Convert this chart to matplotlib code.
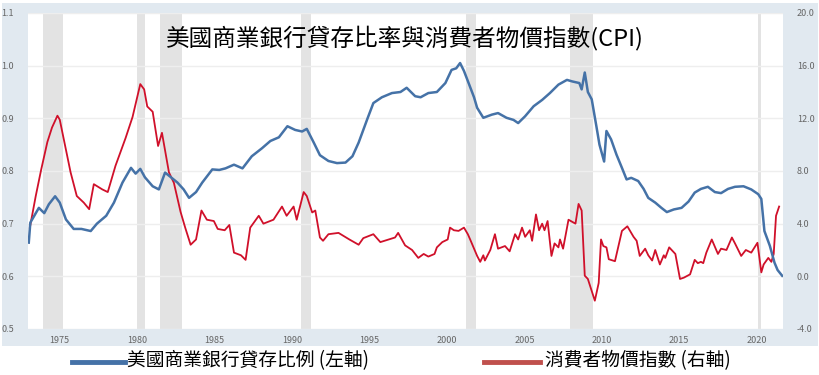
import matplotlib
matplotlib.use("Agg")
import matplotlib.pyplot as plt
from matplotlib.patches import Rectangle
from matplotlib.lines import Line2D

# ---- data ----
ldr_year = [1973.0, 1973.1, 1973.65, 1974.0, 1974.3, 1974.7, 1975.0, 1975.4, 1975.9, 1976.4,
            1977.0, 1977.4, 1978.0, 1978.5, 1979.05, 1979.6, 1979.9, 1980.2, 1980.5, 1981.0,
            1981.4, 1981.8, 1982.1, 1982.6, 1983.0, 1983.35, 1983.8, 1984.2, 1984.85, 1985.3,
            1985.7, 1986.25, 1986.8, 1987.4, 1988.05, 1988.6, 1989.15, 1989.7, 1990.2, 1990.65,
            1990.95, 1991.4, 1991.8, 1992.35, 1992.9, 1993.45, 1993.9, 1994.3, 1994.85, 1995.25,
            1995.8, 1996.45, 1997.0, 1997.4, 1997.95, 1998.3, 1998.8, 1999.35, 1999.9, 2000.3,
            2000.6, 2000.85, 2001.1, 2001.4, 2001.75, 2001.95, 2002.35, 2002.9, 2003.3, 2003.85,
            2004.3, 2004.6, 2005.05, 2005.6, 2006.15, 2006.65, 2007.2, 2007.75, 2008.1, 2008.55,
            2008.7, 2008.9, 2009.1, 2009.35, 2009.65, 2009.85, 2010.15, 2010.3, 2010.6, 2010.95,
            2011.3, 2011.6, 2011.9, 2012.35, 2012.7, 2013.0, 2013.45, 2013.85, 2014.2, 2014.65,
            2015.15, 2015.6, 2016.0, 2016.4, 2016.85, 2017.3, 2017.7, 2018.15, 2018.6, 2019.15,
            2019.65, 2020.1, 2020.3, 2020.5, 2020.85, 2021.15, 2021.35, 2021.65]
ldr_value = [0.664, 0.702, 0.730, 0.720, 0.737, 0.752, 0.740, 0.708, 0.690, 0.690,
             0.686, 0.700, 0.715, 0.740, 0.778, 0.806, 0.795, 0.804, 0.788, 0.771,
             0.765, 0.797, 0.790, 0.778, 0.765, 0.749, 0.760, 0.778, 0.803, 0.802,
             0.805, 0.812, 0.805, 0.828, 0.843, 0.857, 0.864, 0.885, 0.878, 0.875,
             0.880, 0.854, 0.830, 0.819, 0.815, 0.816, 0.828, 0.854, 0.898, 0.929,
             0.940, 0.948, 0.950, 0.958, 0.942, 0.940, 0.948, 0.950, 0.967, 0.992,
             0.995, 1.005, 0.990, 0.967, 0.940, 0.920, 0.901, 0.907, 0.910, 0.901,
             0.897, 0.891, 0.904, 0.923, 0.935, 0.948, 0.964, 0.973, 0.970, 0.967,
             0.955, 0.987, 0.950, 0.936, 0.885, 0.850, 0.818, 0.876, 0.860, 0.831,
             0.806, 0.784, 0.787, 0.781, 0.766, 0.749, 0.740, 0.730, 0.722, 0.727,
             0.730, 0.742, 0.759, 0.766, 0.770, 0.760, 0.758, 0.766, 0.770, 0.771,
             0.765, 0.756, 0.747, 0.686, 0.658, 0.626, 0.612, 0.601]

cpi_year = [1973.07, 1973.45, 1973.8, 1974.2, 1974.5, 1974.85, 1975.0, 1975.4, 1975.7, 1976.1,
            1976.55, 1976.9, 1977.2, 1977.75, 1978.1, 1978.6, 1979.25, 1979.7, 1980.2, 1980.45,
            1980.65, 1981.0, 1981.35, 1981.6, 1982.05, 1982.37, 1982.8, 1983.1, 1983.45, 1983.8,
            1984.15, 1984.5, 1984.95, 1985.2, 1985.65, 1985.95, 1986.25, 1986.7, 1987.0, 1987.3,
            1987.85, 1988.15, 1988.8, 1989.35, 1989.65, 1990.1, 1990.3, 1990.75, 1990.95, 1991.3,
            1991.5, 1991.8, 1992.0, 1992.35, 1993.0, 1993.7, 1994.3, 1994.6, 1995.25, 1995.7,
            1996.65, 1996.85, 1997.3, 1997.75, 1998.15, 1998.5, 1998.8, 1999.2, 1999.35, 1999.7,
            2000.05, 2000.2, 2000.45, 2000.75, 2001.1, 2001.35, 2001.5, 2001.95, 2002.15, 2002.35,
            2002.45, 2002.8, 2003.1, 2003.3, 2003.75, 2004.05, 2004.4, 2004.6, 2004.85, 2005.05,
            2005.35, 2005.5, 2005.75, 2005.95, 2006.15, 2006.3, 2006.5, 2006.75, 2006.95, 2007.2,
            2007.3, 2007.5, 2007.85, 2008.15, 2008.3, 2008.5, 2008.7, 2008.9, 2009.1, 2009.55,
            2009.8, 2009.95, 2010.1, 2010.3, 2010.45, 2010.85, 2011.3, 2011.65, 2012.05, 2012.25,
            2012.45, 2012.8, 2013.0, 2013.25, 2013.45, 2013.75, 2014.0, 2014.1, 2014.35, 2014.75,
            2015.05, 2015.3, 2015.7, 2016.0, 2016.2, 2016.4, 2016.55, 2016.75, 2017.1, 2017.5,
            2017.7, 2018.05, 2018.4, 2018.6, 2019.0, 2019.3, 2019.65, 2020.05, 2020.3, 2020.45,
            2020.75, 2020.95, 2021.1, 2021.25, 2021.45]
cpi_value = [3.7, 6.1, 8.1, 10.2, 11.3, 12.2, 11.9, 9.6, 7.9, 6.1,
             5.6, 5.1, 7.0, 6.6, 6.4, 8.4, 10.5, 12.1, 14.6, 14.2,
             12.9, 12.5, 9.9, 10.9, 7.9, 7.1, 4.9, 3.7, 2.4, 2.8,
             5.0, 4.3, 4.2, 3.6, 3.5, 3.9, 1.8, 1.6, 1.25, 3.7,
             4.6, 4.0, 4.3, 5.3, 4.6, 5.3, 4.3, 6.4, 6.1, 4.85,
             5.0, 2.95, 2.7, 3.2, 3.3, 2.8, 2.4, 2.9, 3.2, 2.6,
             2.95, 3.3, 2.35, 2.0, 1.4, 1.7, 1.5, 1.7, 2.2, 2.6,
             2.8, 3.7, 3.5, 3.45, 3.7, 3.2, 2.8, 1.55, 1.1, 1.6,
             1.2, 2.0, 3.2, 2.1, 2.3, 1.9, 3.2, 2.8, 3.7, 3.0,
             3.5, 2.7, 4.7, 3.5, 4.0, 3.5, 4.2, 1.55, 2.5, 2.2,
             2.8, 2.1, 4.3, 4.1, 4.0, 5.5, 5.0, 0.05, -0.2, -1.85,
             -0.5, 2.8, 2.3, 2.2, 1.3, 1.15, 3.45, 3.8, 3.0, 2.7,
             1.55, 2.1, 1.6, 1.2, 2.0, 0.9, 1.6, 1.4, 2.2, 1.7,
             -0.2, -0.1, 0.15, 1.25, 1.0, 1.1, 1.0, 1.8, 2.8, 1.7,
             2.1, 2.0, 2.95, 2.5, 1.55, 2.0, 1.8, 2.55, 0.3, 0.9,
             1.4, 1.1, 1.7, 4.6, 5.3]

recessions = [(1973.9, 1975.2), (1980.0, 1980.5), (1981.5, 1982.9), (1990.55, 1991.2),
              (2001.2, 2001.9), (2007.95, 2009.45), (2020.1, 2020.3)]

left_ticks = [0.5, 0.6, 0.7, 0.8, 0.9, 1.0, 1.1]
right_ticks = [-4.0, 0.0, 4.0, 8.0, 12.0, 16.0, 20.0]
x_ticks = [1975, 1980, 1985, 1990, 1995, 2000, 2005, 2010, 2015, 2020]

title = "美國商業銀行貸存比率與消費者物價指數(CPI)"
label_ldr = "美國商業銀行貸存比例 (左軸)"
label_cpi = "消費者物價指數 (右軸)"

plt.rcParams['font.family'] = ['Noto Sans CJK TC', 'DejaVu Sans']

BLUE = '#4572a7'
RED = '#d0102a'
BG = '#e1e9f0'
TICK = '#666666'

fig = plt.figure(figsize=(8.2, 3.75), dpi=100, facecolor='white')
fig.patches.append(Rectangle((2 / 820, 1 - 346 / 375), 816 / 820, 343 / 375,
                             transform=fig.transFigure, facecolor=BG, edgecolor='none',
                             zorder=-10))

rect = [28 / 820, 1 - 329 / 375, (783 - 28) / 820, (329 - 13) / 375]

# right axis (CPI) behind, only for its ticks and red line
ax2 = fig.add_axes(rect, zorder=1)
ax2.set_facecolor('white')
ax2.set_xlim(1972.95, 2021.7)
ax2.set_ylim(-4, 20)
ax2.yaxis.tick_right()
ax2.set_yticks(right_ticks)
ax2.set_yticklabels([f"{v:.1f}" for v in right_ticks])
ax2.set_xticks(x_ticks)
ax2.set_xticklabels([str(v) for v in x_ticks])
ax2.tick_params(axis='both', length=0, labelsize=6.5, labelcolor=TICK)
ax2.tick_params(axis='y', pad=10)
ax2.tick_params(axis='x', pad=5)
for s in ax2.spines.values():
    s.set_visible(False)
for a, b in recessions:
    ax2.axvspan(a, b, color='#e3e3e3', lw=0, zorder=0.5)
ax2.grid(axis='y', color='#eeeeee', lw=1, zorder=0.6)
ax2.plot(cpi_year, cpi_value, color=RED, lw=1.3, zorder=3)

# left axis (loan-to-deposit ratio) on top, transparent
ax = fig.add_axes(rect, zorder=2)
ax.patch.set_visible(False)
ax.set_xlim(1972.95, 2021.7)
ax.set_ylim(0.5, 1.1)
ax.set_yticks(left_ticks)
ax.set_yticklabels([f"{v:.1f}" for v in left_ticks])
ax.set_xticks([])
ax.tick_params(axis='y', length=0, labelsize=6.5, labelcolor=TICK, pad=10)
for s in ax.spines.values():
    s.set_visible(False)
ax.plot(ldr_year, ldr_value, color=BLUE, lw=1.8, zorder=3)

fig.text(405 / 820, 1 - 38 / 375, title, ha='center', va='center', fontsize=17,
         color='black', fontweight='medium')

# legend
fig.add_artist(Line2D([72 / 820, 125 / 820], [1 - 362 / 375] * 2, color=BLUE, lw=3.5))
fig.text(127 / 820, 1 - 361 / 375, label_ldr, ha='left', va='center', fontsize=13.5, color='black')
fig.add_artist(Line2D([484 / 820, 540 / 820], [1 - 362 / 375] * 2, color='#c0504d', lw=3.5))
fig.text(545 / 820, 1 - 361 / 375, label_cpi, ha='left', va='center', fontsize=13.5, color='black')

fig.savefig('out.png', dpi=100, facecolor='white')
